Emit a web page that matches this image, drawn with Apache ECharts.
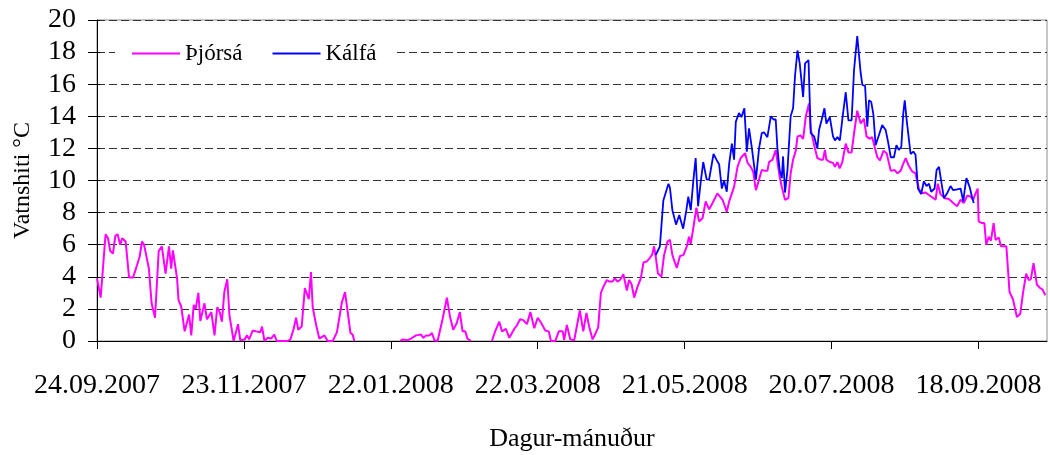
<!DOCTYPE html>
<html>
<head>
<meta charset="utf-8">
<title>Vatnshiti Þjórsá og Kálfá</title>
<script src="https://cdn.jsdelivr.net/npm/echarts@6/dist/echarts.min.js"></script>
<style>
  html, body { margin: 0; padding: 0; background: #fff; }
  #chart { width: 1050px; height: 455px; }
</style>
</head>
<body>
<div id="chart"></div>
<script>
// x = days since 24.09.2007, null = break in the record
const dateLabels = ['24.09.2007', '23.11.2007', '22.01.2008', '22.03.2008', '21.05.2008', '20.07.2008', '18.09.2008']
const tickDays = [0, 60, 120, 180, 240, 300, 360]

const thjorsaDays = [
  0, 1.5, 3.5, 4.5, 5.4, 6.5, 7.5, 8.4, 9.5, 10.3, 11.7, 13.1, 14.7, 16.1, 17.4, 18.4, 19.2, 20.1, 21.2, 22.3,
  23.7, 25.2, 26.5, 28.0, 29.4, 30.3, 31.0, 32.7, 33.3, 34.4, 35.8, 36.5, 37.6, 38.5, 39.5, 40.3, 41.4, 42.2, 43.9, 44.9,
  46.7, 48.0, 49.1, 50.1, 51.0, 52.0, 53.2, 54.1, 55.8, 57.6, 58.5, 60.3, 61.3, 62.1, 63.6, 65.0, 66.7, 67.4, 68.4, 69.7,
  71.1, 72.4, 73.4, 77.9, 79.0, 80.3, 81.3, 82.2, 83.6, 84.9, 86.5, 87.4, 88.1, 89.5, 90.8, 91.5, 92.9, 94.2, 96.3, 98.0,
  100.0, 101.3, 102.4, 103.5, 104.4, 105.1,
  114,
  123.8, 124.8, 126.9, 128.2, 130.3, 132.3, 133.3, 134.4, 135.7, 136.8, 137.8, 139.1, 141.2, 142.9, 144.2, 145.5, 146.9, 148.2, 149.3, 150.4,
  151.3, 152.7,
  157,
  161.3, 162.6, 164.3, 165.4, 167.0, 168.4, 170.4, 171.4, 172.8, 174.1, 175.6, 177.0, 178.6, 180.0, 181.3, 183.1, 184.5, 185.4, 187.2, 188.6,
  190.2, 190.8, 191.9, 193.3, 194.9, 195.6, 197.2, 198.6, 199.9, 201.0, 202.4, 203.7, 204.7, 205.8, 206.9, 208.2, 209.2, 210.5, 211.5, 212.6,
  213.6, 215.0, 216.4, 217.3, 218.3, 219.4, 220.7, 222.1, 223.2, 224.5, 225.9, 226.8, 227.5, 228.2, 229.1, 230.5, 231.6, 233.0, 234.0, 235.0,
  236.8, 238.1, 239.5, 240.9, 241.8, 242.5, 243.6, 244.8, 245.9, 247.3, 248.6, 250.0, 251.4, 253.4, 255.5, 257.2, 258.2, 260.2, 261.6, 262.9,
  264.7, 265.7, 267.0, 268.0, 269.1, 270.1, 271.5, 272.9, 273.8, 274.5, 275.9, 277.2, 278.8, 279.7, 280.2, 281.0, 282.4, 283.3, 284.3, 285.4,
  286.1, 287.4, 288.4, 289.5, 290.8, 291.5, 292.9, 294.2, 295.6, 296.5, 297.3, 297.9, 299.3, 300.6, 301.4, 302.4, 303.3, 304.4, 305.8, 306.9,
  308.2, 309.2, 310.5, 311.9, 313.2, 314.3, 315.5, 316.6, 317.6, 318.7, 319.8, 321.2, 322.5, 324.2, 325.8, 326.9, 328.2, 329.3, 330.3, 331.6,
  333.0, 334.3, 335.7, 337.0, 338.4, 340.2, 342.5, 343.4, 344.5, 346.2, 347.9, 349.7, 351.3, 352.7, 354.0, 355.4, 356.8, 357.8, 358.7, 359.7,
  360.1, 361.4, 362.4, 363.2, 364.2, 365.1, 366.2, 367.0, 368.3, 369.2, 371.4, 372.7, 374.1, 375.7, 377.1, 378.2, 379.5, 380.5, 381.4, 382.5,
  383.9, 385.2, 386.2, 387.3
]
const thjorsaTemp = [
  3.9, 2.7, 6.65, 6.4, 5.6, 5.45, 6.55, 6.65, 6.0, 6.4, 6.2, 3.95, 3.95, 4.6, 5.25, 6.2, 6.0, 5.35, 4.5, 2.35,
  1.45, 5.6, 5.9, 4.2, 5.9, 4.5, 5.65, 3.9, 2.55, 2.15, 0.6, 0.55, 1.65, 0.35, 2.25, 2.0, 3.0, 1.25, 2.35, 1.35,
  1.8, 0.35, 2.1, 1.8, 1.2, 3.05, 3.85, 1.6, 0, 1.05, 0.05, 0.1, 0.35, 0.1, 0.65, 0.6, 0.55, 0.9, 0, 0.2,
  0.15, 0.4, 0, 0, 0.1, 0.75, 1.45, 0.7, 0.9, 3.3, 2.6, 4.3, 2.1, 1.0, 0.15, 0.1, 0.35, 0, 0, 0.55,
  2.4, 3.05, 1.8, 0.5, 0.4, 0,
  null,
  0, 0.1, 0.05, 0.15, 0.35, 0.4, 0.2, 0.35, 0.35, 0.5, 0.05, 0, 1.4, 2.7, 1.5, 0.7, 1.1, 1.8, 0.6, 0.6,
  0.15, 0,
  null,
  0, 0.6, 1.2, 0.6, 0.75, 0.2, 0.75, 0.95, 1.35, 1.3, 1.05, 1.8, 0.8, 1.45, 1.15, 0.65, 0.6, 0, 0, 0.6,
  0.6, 0.05, 1.0, 0.1, 0.05, 0.15, 1.9, 0.6, 1.75, 0.9, 0.1, 0.5, 0.85, 3.0, 3.4, 3.8, 3.7, 3.7, 3.9, 3.7,
  3.8, 4.15, 3.15, 3.8, 3.55, 2.7, 3.35, 3.9, 4.9, 4.95, 5.2, 5.4, 5.9, 5.25, 4.2, 4.0, 5.35, 6.2, 6.3, 5.35,
  4.55, 5.3, 5.35, 5.9, 6.5, 6.05, 7.1, 8.3, 7.45, 7.65, 8.7, 8.2, 8.6, 9.2, 8.8, 8.05, 8.7, 9.6, 10.85, 11.4,
  11.7, 11.1, 10.85, 10.55, 9.4, 9.9, 10.65, 10.6, 10.6, 11.15, 11.3, 11.9, 10.25, 9.6, 9.65, 8.8, 8.9, 10.45, 11.3, 11.85,
  12.75, 12.8, 12.6, 14.0, 14.8, 13.2, 12.2, 11.4, 11.3, 11.3, 11.9, 11.3, 11.15, 11.1, 10.85, 11.15, 10.75, 11.15, 12.3, 11.75,
  11.75, 12.95, 14.35, 13.55, 13.85, 12.75, 12.6, 12.7, 12.1, 11.45, 11.25, 11.85, 11.7, 10.6, 10.65, 10.45, 10.6, 11.05, 11.4, 10.9,
  10.55, 10.45, 9.45, 9.2, 9.25, 9.05, 8.8, 9.8, 9.15, 8.9, 8.85, 8.6, 8.4, 8.8, 8.6, 9.05, 9.0, 8.8, 9.15, 9.5,
  7.45, 7.35, 7.35, 6.0, 6.5, 6.25, 7.35, 6.3, 6.45, 5.9, 5.9, 3.05, 2.6, 1.5, 1.7, 3.0, 4.2, 3.8, 3.85, 4.85,
  3.5, 3.3, 3.2, 2.85
]

const kalfaDays = [
  228.2, 229.9, 230.5, 231.3, 232.0, 233.4, 234.0, 235.0, 236.5, 237.8, 239.4, 240.7, 241.5, 242.5, 243.6, 244.5, 245.5, 246.6, 247.6, 248.2,
  249.0, 250.0, 251.8, 253.0, 254.1, 255.2, 256.1, 257.2, 258.2, 259.3, 260.2, 260.9, 262.2, 263.2, 264.4, 265.4, 266.3, 267.4, 269.1, 270.4,
  271.5, 272.4, 273.8, 275.2, 276.3, 277.2, 277.9, 278.8, 279.7, 280.2, 281.0, 282.0, 283.3, 284.3, 285.1, 286.1, 287.0, 288.4, 289.2, 290.6,
  291.5, 292.9, 294.2, 294.9, 296.0, 297.1, 297.9, 299.3, 300.6, 301.4, 302.4, 303.4, 304.4, 305.8, 306.9, 308.2, 309.2, 310.5, 311.9, 312.6,
  313.7, 314.6, 315.3, 316.2, 317.1, 318.0, 319.4, 320.7, 322.1, 323.1, 324.2, 325.5, 326.5, 327.5, 328.5, 329.3, 329.9, 330.7, 332.3, 333.4,
  334.3, 335.3, 336.6, 337.7, 338.8, 339.8, 340.7, 342.1, 342.9, 343.9, 344.8, 345.9, 347.2, 348.6, 349.7, 351.3, 352.7, 353.8, 354.3, 355.1,
  356.5, 357.4, 358.1
]
const kalfaTemp = [
  5.35, 5.9, 6.0, 8.75, 8.8, 9.8, 9.55, 8.15, 7.25, 7.85, 7.0, 8.15, 9.0, 8.15, 10.05, 11.4, 8.4, 9.95, 11.15, 11.05,
  10.05, 10.07, 11.65, 11.3, 11.0, 9.5, 10.0, 9.3, 11.05, 12.3, 11.3, 13.65, 14.2, 13.95, 14.5, 11.8, 13.25, 12.1, 10.05, 12.0,
  12.95, 13.0, 12.7, 14.0, 13.8, 13.8, 12.0, 10.65, 10.15, 11.5, 9.25, 10.65, 14.0, 14.5, 16.55, 18.1, 17.3, 15.2, 17.3, 17.5,
  12.95, 12.75, 12.0, 13.15, 13.8, 14.5, 13.55, 13.95, 12.75, 12.5, 12.7, 12.5, 13.8, 15.5, 13.75, 13.75, 16.9, 19.0, 16.7, 15.95,
  15.9, 13.35, 15.0, 14.9, 14.1, 12.2, 12.85, 13.45, 13.15, 12.4, 11.45, 11.45, 12.2, 11.9, 12.1, 14.2, 15.0, 13.75, 11.65, 11.8,
  11.6, 9.5, 9.15, 9.95, 9.65, 9.8, 9.3, 9.5, 10.65, 10.85, 9.95, 8.9, 9.2, 9.65, 9.4, 9.45, 9.5, 8.7, 9.3, 10.15,
  9.55, 8.95, 8.6
]

const pairs = (days, temps) => days.map((d, i) => [d, temps[i] === null ? '-' : temps[i]])

const FONT = "'Liberation Serif', 'Times New Roman', serif"

const chart = echarts.init(document.getElementById('chart'), null, { renderer: 'canvas' })

const option = {
  backgroundColor: '#ffffff',
  animation: false,
  grid: {
    left: 97,
    right: 3,
    top: 20,
    bottom: 114,
    containLabel: false,
    outerBoundsMode: 'none',
    show: true,
    borderColor: '#8c8c8c',
    borderWidth: 1,
    backgroundColor: 'transparent'
  },
  legend: {
    left: 115,
    top: 38,
    padding: [4, 17],
    backgroundColor: '#ffffff',
    icon: 'rect',
    itemWidth: 48,
    itemHeight: 2,
    itemGap: 30,
    textStyle: { fontFamily: FONT, fontSize: 23, color: '#000', lineHeight: 22 },
    data: ['Þjórsá', 'Kálfá']
  },
  xAxis: {
    type: 'value',
    min: 0,
    max: 388,
    interval: 60,
    name: 'Dagur-mánuður',
    nameLocation: 'middle',
    nameGap: 85,
    nameMoveOverlap: false,
    nameTextStyle: { fontFamily: FONT, fontSize: 26, color: '#000' },
    axisLine: { lineStyle: { color: '#000', width: 1 } },
    axisTick: { show: true, length: 8, lineStyle: { color: '#000' }, customValues: tickDays },
    axisLabel: {
      fontFamily: FONT,
      fontSize: 28,
      color: '#000',
      margin: 31,
      customValues: tickDays,
      formatter: v => dateLabels[Math.round(v / 60)] || ''
    },
    splitLine: { show: false }
  },
  yAxis: [
    {
      type: 'value',
      min: 0,
      max: 20,
      interval: 2,
      name: 'Vatnshiti °C',
      nameLocation: 'middle',
      nameRotate: 90,
      nameGap: 62,
      nameMoveOverlap: false,
      nameTextStyle: { fontFamily: FONT, fontSize: 24, color: '#000' },
      axisLine: { show: true, lineStyle: { color: '#000', width: 1 } },
      axisTick: { show: true, length: 9, lineStyle: { color: '#000' } },
      axisLabel: { fontFamily: FONT, fontSize: 28, color: '#000', margin: 21 },
      splitLine: { show: true, lineStyle: { color: '#333', width: 1, type: [8, 4] } }
    },
    {
      // inner half of the cross ticks
      type: 'value',
      min: 0,
      max: 20,
      interval: 2,
      position: 'left',
      axisLine: { show: false },
      axisTick: { show: true, inside: true, length: 3, lineStyle: { color: '#000' } },
      axisLabel: { show: false },
      splitLine: { show: false }
    }
  ],
  series: [
    {
      name: 'Þjórsá',
      type: 'line',
      data: pairs(thjorsaDays, thjorsaTemp),
      symbol: 'none',
      connectNulls: false,
      lineStyle: { color: '#ff00ff', width: 2 },
      itemStyle: { color: '#ff00ff' }
    },
    {
      name: 'Kálfá',
      type: 'line',
      data: pairs(kalfaDays, kalfaTemp),
      symbol: 'none',
      lineStyle: { color: '#0000ff', width: 1.8 },
      itemStyle: { color: '#0000ff' }
    }
  ]
}

chart.setOption(option)
</script>
</body>
</html>
